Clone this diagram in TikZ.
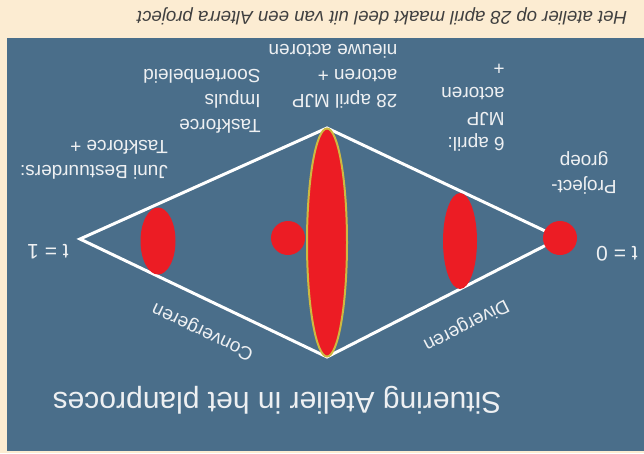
\documentclass[tikz,border=0pt]{standalone}
\usepackage{fontspec}
\setsansfont{Liberation Sans}
\usetikzlibrary{shapes.geometric}
\definecolor{paper}{RGB}{252,236,210}
\definecolor{panel}{RGB}{74,110,138}
\definecolor{blob}{RGB}{236,28,36}
\definecolor{rim}{RGB}{205,185,65}
\definecolor{ink}{RGB}{238,240,242}
\tikzset{
  lbl/.style={text=ink, rotate=180, font=\sffamily\fontsize{19}{25}\selectfont,
    align=left, inner sep=0pt},
  slant/.style={text=ink, font=\sffamily\fontsize{19}{23}\selectfont, inner sep=0pt},
  edge/.style={draw=white, line width=3pt},
  blobell/.style={ellipse, fill=blob, inner sep=0pt},
  blobdot/.style={circle, fill=blob, minimum size=34pt, inner sep=0pt}
}
\begin{document}
\begin{tikzpicture}[x=1pt, y=-1pt, font=\sffamily]
  \useasboundingbox (0,0) rectangle (644,453);
  \fill[paper] (0,0) rectangle (644,453);
  \fill[panel] (7,38) rectangle (644,451);

  % caption (upside down, as in the scan)
  \node[rotate=180, text=black!75, font=\sffamily\itshape\fontsize{18.6}{22}\selectfont, inner sep=0pt]
    (caption) at (382,16) {Het atelier op 28 april maakt deel uit van een Alterra project};

  % diamond
  \coordinate (tend) at (80,239);
  \coordinate (ttop) at (327,128);
  \coordinate (tstart) at (560,238);
  \coordinate (tbot) at (327,357);
  \draw[edge] (tend) -- (ttop) -- (tstart) -- (tbot) -- cycle;

  % blobs
  \node[blobdot] (start) at (tstart) {};
  \node[blobell, minimum width=34pt, minimum height=96pt] (diverge) at (460,241) {};
  \node[blobell, draw=rim, line width=2pt, minimum width=40pt, minimum height=228pt] (atelier) at (327,242.5) {};
  \node[blobdot] (impuls) at (288,238) {};
  \node[blobell, minimum width=35pt, minimum height=67pt] (converge) at (158,241) {};

  % labels
  \node[lbl, font=\sffamily\fontsize{21}{25}\selectfont] (t0) at (617,254) {t = 0};
  \node[lbl, font=\sffamily\fontsize{21}{25}\selectfont] (t1) at (48,252) {t = 1};
  \node[lbl, align=center] (groep) at (584,173) {Project-\\groep};
  \node[lbl] (mjp6) at (473,107) {6 april:\\MJP\\actoren\\+};
  \node[lbl] (mjp28) at (333,76) {28 april MJP\\actoren +\\nieuwe actoren};
  \node[lbl] (task) at (202,101) {Taskforce\\Impuls\\Soortenbeleid};
  \node[lbl] (juni) at (94,160) {Juni Bestuurders:\\Taskforce +};
  \node[slant, rotate=207] (div) at (466,325) {Divergeren};
  \node[slant, rotate=154.5] (conv) at (203,331) {Convergeren};

  % title
  \node[rotate=180, text=ink, font=\sffamily\fontsize{30}{36}\selectfont, inner sep=0pt]
    (title) at (277,400) {Situering Atelier in het planproces};
\end{tikzpicture}
\end{document}
